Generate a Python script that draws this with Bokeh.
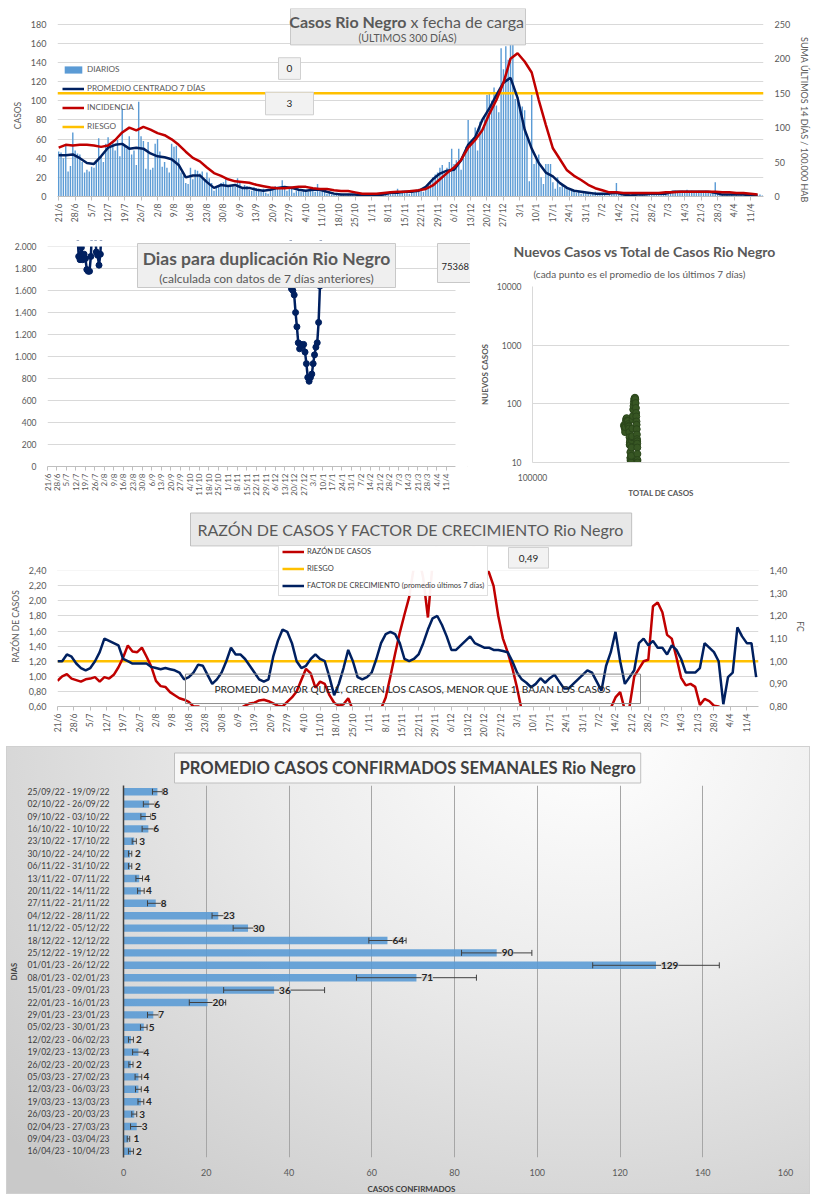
import math
from bokeh.plotting import figure
from bokeh.layouts import column, row
from bokeh.models import (Range1d, LinearAxis, FixedTicker, CustomJSTickFormatter, Label,
                          BoxAnnotation, Legend, LegendItem, ColumnDataSource, LabelSet,
                          FactorRange, NumeralTickFormatter, Title)
from bokeh.core.properties import value
from bokeh.embed import file_html
from bokeh.resources import INLINE

FONT = "Lato"
TXT = "#595959"
DARK = "#262626"
NAVY = "#002060"
RED = "#c00000"
YELLOW = "#ffc000"
BLUE = "#5b9bd5"
GRID = "#d9d9d9"
NB = "\u00a0"

# ---------------------------------------------------------------- data
fecha_labels = ["21/6", "28/6", "5/7", "12/7", "19/7", "26/7", "2/8", "9/8", "16/8", "23/8",
                "30/8", "6/9", "13/9", "20/9", "27/9", "4/10", "11/10", "18/10", "25/10", "1/11",
                "8/11", "15/11", "22/11", "29/11", "6/12", "13/12", "20/12", "27/12", "3/1", "10/1",
                "17/1", "24/1", "31/1", "7/2", "14/2", "21/2", "28/2", "7/3", "14/3", "21/3",
                "28/3", "4/4", "11/4"]
week_ticks = [7 * i for i in range(len(fecha_labels))]

# daily cases, 21/6/2022 .. 16/4/2023
diarios = [
    47, 46, 40, 53, 26, 32, 67,
    48, 45, 44, 36, 25, 28, 26,
    31, 30, 38, 61, 42, 36, 55,
    62, 56, 57, 48, 59, 42, 92,
    52, 50, 63, 44, 48, 33, 99,
    63, 58, 29, 57, 28, 30, 55,
    60, 47, 31, 36, 30, 25, 55,
    52, 53, 40, 25, 22, 14, 13,
    30, 18, 28, 27, 24, 26, 18,
    25, 19, 14, 6, 9, 10, 14,
    15, 20, 10, 12, 11, 10, 19,
    14, 10, 12, 11, 7, 6, 10,
    9, 8, 5, 8, 4, 3, 6,
    8, 11, 10, 9, 17, 10, 6,
    9, 8, 4, 6, 7, 5, 6,
    7, 5, 8, 6, 5, 13, 6,
    8, 7, 3, 4, 2, 2, 3,
    2, 3, 2, 1, 3, 2, 2,
    3, 2, 1, 1, 1, 2, 1,
    1, 2, 1, 2, 1, 1, 3,
    4, 3, 5, 4, 8, 3, 6,
    5, 4, 3, 6, 4, 5, 8,
    6, 5, 9, 12, 14, 20, 23,
    25, 30, 33, 24, 30, 36, 50,
    34, 38, 50, 28, 40, 52, 80,
    55, 60, 72, 48, 78, 70, 85,
    106, 107, 100, 114, 95, 88, 155,
    133, 157, 143, 160, 160, 102, 104,
    92, 94, 90, 61, 16, 106, 34,
    40, 44, 20, 13, 34, 34, 34,
    15, 8, 20, 10, 12, 9, 8,
    8, 6, 5, 4, 6, 3, 5,
    4, 3, 2, 3, 5, 2, 3,
    2, 3, 1, 4, 2, 3, 14,
    5, 2, 1, 2, 3, 1, 2,
    2, 1, 2, 3, 1, 2, 2,
    3, 2, 4, 3, 2, 3, 4,
    3, 4, 5, 6, 5, 4, 6,
    5, 7, 4, 6, 5, 4, 6,
    5, 4, 6, 5, 3, 4, 15,
    4, 3, 2, 1, 2, 1, 2,
    1, 2, 1, 2, 1, 2, 1,
    2, 3, 2, 1, 2, 1,
]
dias = list(range(len(diarios)))

# lines read every 3 days
dias_3 = list(range(0, 300, 3))
promedio_7d = [
    43, 43, 44, 40, 35, 34, 42, 51, 54, 55,
    50, 51, 50, 45, 42, 41, 39, 33, 20, 22,
    22, 15, 9, 12, 11, 12, 9, 9, 7, 6,
    7, 9, 10, 9, 7, 6, 7, 7, 5, 3,
    2, 2, 2, 1, 1, 1, 2, 4, 4, 5,
    5, 6, 10, 18, 24, 27, 28, 38, 54, 62,
    80, 92, 106, 119, 124, 103, 70, 50, 35, 25,
    21, 14, 9, 6, 5, 4, 3, 3, 3, 4,
    2, 1, 2, 2, 3, 3, 3, 5, 5, 5,
    5, 5, 5, 4, 2, 2, 2, 2, 1, 1,
]
incidencia = [
    71, 75, 74, 75, 75, 74, 72, 74, 82, 93,
    100, 96, 101, 97, 92, 89, 83, 75, 65, 56,
    51, 42, 34, 30, 25, 22, 21, 20, 17, 15,
    13, 12, 12, 13, 14, 14, 12, 11, 11, 9,
    8, 8, 6, 4, 4, 4, 5, 6, 7, 7,
    8, 9, 11, 16, 25, 34, 42, 53, 71, 82,
    96, 120, 140, 165, 200, 208, 196, 180, 140, 104,
    70, 54, 38, 30, 24, 17, 12, 9, 6, 6,
    5, 5, 5, 5, 5, 5, 6, 6, 7, 7,
    7, 7, 7, 7, 6, 6, 5, 5, 4, 3,
]
riesgo_incidencia = 150

# doubling days (stretches near the 0-2000 window, nan = gap)
NAN = float("nan")
dup_dias = [22, 23, 24, 25, 26, 27, 28, 29, 30, 31, 32, 33, 34, 35, 36, 37, 38, 39, 40, 41,
            179, 180, 181, 182, 183, 184, 185, 186, 187, 188, 189, 190, 191, 192, 193, 194,
            195, 196, 197, 198, 199, 200, 201, 202]
dup_valores = [2150, 1910, 1880, 1990, 1880, 1930, 1890, 1790, 1775, 1775, 1910, 2200, 2300,
               2150, 1950, 1920, 1830, 1930, 2200, NAN,
               2400, 1615, 1600, 1560, 1400, 1270, 1125, 1070, 1110, 1100, 1110, 1040, 935,
               810, 775, 810, 840, 935, 1015, 1085, 1125, 1310, 1640, 2300]
total_casos_box = "75368"

# new vs total
total_casos = [227000, 227800, 228600, 229300, 230000, 230800, 231600, 232400, 233200, 234000,
               234800, 235500, 236200, 236900, 237500, 238100, 238500, 238900, 239300, 239700,
               240000, 240300, 240500, 240700, 240900, 241100, 241300, 242000, 242300, 242700,
               243200, 243700, 244200, 244700, 245300, 245900, 246600, 247300, 248000, 248800,
               249600, 250400, 251200, 251900, 252500, 253000, 253400, 253800, 254100, 254400,
               254700, 255000, 255300, 255500, 255700, 255900, 256100, 256200]
nuevos_casos = [43, 41, 38, 33, 40, 50, 55, 57, 52, 50,
                51, 45, 42, 41, 38, 33, 27, 20, 22, 23,
                20, 15, 12, 11, 12, 10, 10.5, 10, 13, 18,
                24, 27, 28, 38, 54, 62, 80, 92, 106, 119,
                124, 127, 120, 103, 85, 70, 61, 50, 44, 37,
                30, 25, 23, 21, 18, 14, 11, 10]

# ratio and growth factor, read every 2 days
dias_2 = list(range(0, 300, 2))
razon_casos = [
    0.94, 1.00, 1.03, 0.97, 0.95, 0.93, 0.96, 0.97, 0.99, 0.93,
    0.99, 0.97, 1.02, 1.12, 1.25, 1.41, 1.33, 1.32, 1.38, 1.26,
    1.13, 0.94, 0.87, 0.86, 0.79, 0.75, 0.71, 0.69, 0.66, 0.60,
    0.60, 0.57, 0.54, 0.50, 0.48, 0.47, 0.50, 0.52, 0.55, 0.58,
    0.61, 0.64, 0.65, 0.68, 0.69, 0.67, 0.64, 0.61, 0.60, 0.66,
    0.72, 0.80, 0.95, 1.10, 1.04, 0.85, 0.93, 0.90, 0.75, 0.65,
    0.61, 0.63, 0.71, 0.55, 0.45, 0.40, 0.38, 0.42, 0.48, 0.57,
    0.72, 1.00, 1.30, 1.58, 1.82, 2.05, 2.45, 2.60, 2.30, 1.78,
    2.50, 2.80, 3.00, 3.10, 3.20, 3.10, 3.00, 2.90, 2.80, 2.70,
    2.60, 2.50, 2.38, 2.20, 1.80, 1.50, 1.32, 1.11, 0.85, 0.55,
    0.45, 0.40, 0.36, 0.33, 0.30, 0.28, 0.27, 0.26, 0.26, 0.27,
    0.28, 0.30, 0.33, 0.36, 0.40, 0.44, 0.48, 0.52, 0.58, 0.72,
    0.79, 0.55, 0.60, 1.00, 1.10, 1.20, 1.22, 1.93, 1.98, 1.85,
    1.55, 1.50, 1.25, 0.98, 0.88, 0.90, 0.86, 0.62, 0.70, 0.67,
    0.61, 0.60, 0.55, 0.52, 0.50, 0.50, 0.49, 0.49, 0.49, 0.49,
]
factor_crecimiento = [
    1.00, 1.00, 1.03, 1.02, 0.99, 0.97, 0.96, 0.97, 1.00, 1.04,
    1.10, 1.09, 1.08, 1.07, 1.01, 1.00, 0.99, 0.99, 0.99, 0.99,
    0.975, 0.97, 0.965, 0.97, 0.965, 0.96, 0.95, 0.92, 0.93, 0.95,
    0.985, 0.98, 0.94, 0.90, 0.92, 0.95, 1.00, 1.06, 1.03, 1.03,
    1.01, 0.98, 0.95, 0.92, 0.91, 0.92, 1.02, 1.09, 1.14, 1.13,
    1.08, 1.00, 0.97, 0.98, 1.01, 1.03, 1.01, 1.00, 0.93, 0.85,
    0.90, 0.97, 1.05, 1.00, 0.93, 0.92, 0.93, 0.95, 1.01, 1.08,
    1.12, 1.13, 1.12, 1.08, 1.01, 1.00, 1.01, 1.03, 1.08, 1.14,
    1.19, 1.20, 1.16, 1.11, 1.05, 1.05, 1.07, 1.09, 1.11, 1.08,
    1.07, 1.06, 1.06, 1.05, 1.05, 1.045, 1.04, 1.00, 0.95, 0.92,
    0.905, 0.885, 0.90, 0.925, 0.905, 0.925, 0.94, 0.91, 0.88, 0.88,
    0.90, 0.92, 0.94, 0.96, 0.95, 0.91, 0.87, 0.98, 1.04, 1.13,
    1.00, 0.90, 0.93, 0.96, 1.08, 1.10, 1.07, 1.09, 1.06, 1.06,
    1.03, 1.07, 1.05, 1.01, 0.95, 0.95, 0.95, 0.97, 1.08, 1.06,
    1.04, 1.00, 0.81, 0.93, 0.95, 1.15, 1.11, 1.08, 1.08, 0.93,
]
riesgo_fc = 1.0
razon_actual = "0,49"

# weekly averages
semanas = ["25/09/22 - 19/09/22", "02/10/22 - 26/09/22", "09/10/22 - 03/10/22",
           "16/10/22 - 10/10/22", "23/10/22 - 17/10/22", "30/10/22 - 24/10/22",
           "06/11/22 - 31/10/22", "13/11/22 - 07/11/22", "20/11/22 - 14/11/22",
           "27/11/22 - 21/11/22", "04/12/22 - 28/11/22", "11/12/22 - 05/12/22",
           "18/12/22 - 12/12/22", "25/12/22 - 19/12/22", "01/01/23 - 26/12/22",
           "08/01/23 - 02/01/23", "15/01/23 - 09/01/23", "22/01/23 - 16/01/23",
           "29/01/23 - 23/01/23", "05/02/23 - 30/01/23", "12/02/23 - 06/02/23",
           "19/02/23 - 13/02/23", "26/02/23 - 20/02/23", "05/03/23 - 27/02/23",
           "12/03/23 - 06/03/23", "19/03/23 - 13/03/23", "26/03/23 - 20/03/23",
           "02/04/23 - 27/03/23", "09/04/23 - 03/04/23", "16/04/23 - 10/04/23"]
promedio_sem = [8.2, 6.2, 5.4, 6.0, 2.6, 1.6, 1.6, 3.8, 4.2, 7.8, 22.9, 30.1, 63.8, 90.2,
                128.7, 70.8, 36.4, 20.3, 7.2, 4.9, 1.8, 3.6, 1.8, 3.6, 3.6, 4.2, 2.6, 3.2,
                1.2, 1.8]
error_sem = [1.2, 1.4, 1.2, 1.5, 0.5, 0.4, 0.4, 0.8, 0.8, 2.0, 1.5, 3.6, 4.5, 8.5, 15.3,
             14.5, 12.2, 4.4, 1.4, 0.8, 0.6, 1.4, 0.5, 0.8, 0.7, 0.7, 0.6, 1.5, 0.3, 0.6]


# ---------------------------------------------------------------- helpers
def mapper(L, T, R, B, xr, yr):
    def m(px, py):
        return (xr[0] + (px - L) / (R - L) * (xr[1] - xr[0]),
                yr[0] + (B - py) / (B - T) * (yr[1] - yr[0]))
    return m


def box(p, m, x0, y0, x1, y1, fill="#e8e8e8", line="#bfbfbf", fill_alpha=1.0):
    l, t = m(x0, y0)
    r, b = m(x1, y1)
    p.add_layout(BoxAnnotation(left=l, right=r, top=t, bottom=b, fill_color=fill,
                               fill_alpha=fill_alpha, line_color=line, line_alpha=1.0,
                               line_width=1, level="overlay"))


def mask(p, **kw):
    p.add_layout(BoxAnnotation(fill_color="white", fill_alpha=1.0, line_color=None,
                               level="annotation", **kw))


def text(p, m, px, py, s, size, color=TXT, bold=False, align="center"):
    x, y = m(px, py)
    p.add_layout(Label(x=x, y=y, text=s, text_font=FONT, text_font_size=f"{size}px",
                       text_font_style="bold" if bold else "normal", text_color=color,
                       text_align=align, text_baseline="middle", level="overlay"))


def style_axis(ax, size=9, color=TXT, line=None, ticks=False):
    ax.major_label_text_font = FONT
    ax.major_label_text_font_size = f"{size}px"
    ax.major_label_text_color = color
    ax.axis_label_text_font = FONT
    ax.axis_label_text_font_style = "normal"
    ax.axis_label_text_color = TXT
    ax.minor_tick_line_color = None
    ax.axis_line_color = line
    if ticks:
        ax.major_tick_line_color = line
        ax.major_tick_out = 4
        ax.major_tick_in = 0
    else:
        ax.major_tick_line_color = None


def date_axis(ax, size=8.5):
    ax.ticker = FixedTicker(ticks=week_ticks)
    ax.major_label_overrides = dict(zip(week_ticks, fecha_labels))
    ax.major_label_orientation = math.pi / 2
    ax.major_label_standoff = 3
    style_axis(ax, size=size, line="#bfbfbf", ticks=True)


def outline(offset):
    return {"outline": "1px solid #d9d9d9", "outline-offset": f"-{offset}px"}


COMMON = dict(output_backend="svg", toolbar_location=None, title=None)
COMMA = "return tick.toFixed(2).replace('.', ',');"

# ---------------------------------------------------------------- panel 1  (page 0..230)
L1, T1, R1, B1 = 57, 8, 763, 199          # frame
s1 = (B1 - 24) / 180.0                    # px per case (180 sits at y=24)
y1_top = 180 + (24 - T1) / s1
s1r = (B1 - 24) / 250.0
y1r_top = 250 + (24 - T1) / s1r
p1 = figure(width=816, height=230, x_range=Range1d(-0.5, 299.5), y_range=Range1d(0, y1_top),
            min_border_left=L1, min_border_right=816 - R1, min_border_top=T1,
            min_border_bottom=230 - B1, **COMMON)
p1.styles = outline(2)
p1.outline_line_color = None
p1.extra_y_ranges = {"inc": Range1d(0, y1r_top)}
p1.xgrid.grid_line_color = None
p1.ygrid.grid_line_color = GRID
p1.yaxis.ticker = FixedTicker(ticks=list(range(0, 181, 20)))
p1.yaxis.axis_label = "CASOS" + NB * 12
style_axis(p1.yaxis[0])
p1.yaxis.axis_label_text_font_size = "8.5px"
date_axis(p1.xaxis[0])
ax_r = LinearAxis(y_range_name="inc", ticker=FixedTicker(ticks=[0, 50, 100, 150, 200, 250]),
                  axis_label=NB * 16 + "SUMA  ÚLTIMOS 14 DÍAS / 100.000 HAB")
style_axis(ax_r)
ax_r.axis_label_text_font_size = "9px"
ax_r.axis_label_standoff = 6
p1.add_layout(ax_r, "right")

r_bar = p1.vbar(x=dias, top=diarios, width=0.6, fill_color=BLUE, line_color=None)
r_risk = p1.line(x=[-0.5, 299.5], y=[riesgo_incidencia] * 2, y_range_name="inc",
                 line_color=YELLOW, line_width=2.5)
r_avg = p1.line(x=dias_3, y=promedio_7d, line_color=NAVY, line_width=2.5)
r_inc = p1.line(x=dias_3, y=incidencia, y_range_name="inc", line_color=RED, line_width=2.5)

leg1 = Legend(items=[LegendItem(label="DIARIOS", renderers=[r_bar]),
                     LegendItem(label="PROMEDIO CENTRADO 7 DÍAS", renderers=[r_avg]),
                     LegendItem(label="INCIDENCIA", renderers=[r_inc]),
                     LegendItem(label="RIESGO", renderers=[r_risk])],
              location=(5, 65), orientation="vertical", label_text_font=FONT,
              label_text_font_size="8.2px", label_text_color=TXT, glyph_height=9,
              glyph_width=22, label_height=9, spacing=9, padding=0, margin=0,
              border_line_alpha=0, background_fill_alpha=0, label_standoff=3)
p1.add_layout(leg1)

m1 = mapper(L1, T1, R1, B1, (-0.5, 299.5), (0, y1_top))
box(p1, m1, 290, 8, 525, 45, fill="#e8e8e8", line="#c8c8c8")
text(p1, m1, 406, 21, "Casos Rio Negro", 16, bold=True, align="right")
text(p1, m1, 410, 21, "x fecha de carga", 16, align="left")
text(p1, m1, 407, 37.5, "(ÚLTIMOS 300 DÍAS)", 10.5)
box(p1, m1, 278, 58, 300, 80, fill="#f2f2f2", line="#d0d0d0")
text(p1, m1, 289, 69, "0", 10, color=DARK)
box(p1, m1, 265, 93, 313, 116, fill="#f2f2f2", line="#d0d0d0")
text(p1, m1, 289, 104.5, "3", 10, color=DARK)

# ---------------------------------------------------------------- panel 2 left (page 230..508)
L2, T2, R2, B2 = 47, 240, 470, 466
s2x = (455 - 47) / 301.0
x2_end = (R2 - L2) / s2x
s2y = (B2 - 246) / 2000.0
y2_top = 2000 + (246 - T2) / s2y
p2a = figure(width=470, height=278, x_range=Range1d(0, x2_end), y_range=Range1d(0, y2_top),
             min_border_left=L2, min_border_right=0, min_border_top=T2 - 230,
             min_border_bottom=508 - B2, **COMMON)
p2a.styles = outline(3)
p2a.outline_line_color = None
p2a.xgrid.grid_line_color = None
p2a.ygrid.grid_line_color = GRID
p2a.yaxis.ticker = FixedTicker(ticks=list(range(0, 2001, 200)))
p2a.yaxis.formatter = CustomJSTickFormatter(code="""
    if (tick >= 1000) { const r = tick % 1000; return Math.floor(tick/1000) + '.' + String(r).padStart(3, '0'); }
    return String(tick);""")
style_axis(p2a.yaxis[0], size=8.5)
date_axis(p2a.xaxis[0], size=8)
p2a.xaxis.bounds = (0, 301)
p2a.line(x=dup_dias, y=dup_valores, line_color=NAVY, line_width=2.5)
p2a.scatter(x=dup_dias, y=dup_valores, size=6, fill_color=NAVY, line_color=NAVY)
# the chart window stops at 2000 and at its right edge: blank out the extra frame room
mask(p2a, bottom=2000)
mask(p2a, left=301)

m2a = mapper(L2, T2, R2, B2, (0, x2_end), (0, y2_top))
box(p2a, m2a, 137, 243, 395, 287, fill="#efefef", line="#c8c8c8")
text(p2a, m2a, 266, 258, "Dias para duplicación Rio Negro", 17.5, bold=True)
text(p2a, m2a, 266, 278, "(calculada con datos de 7 días anteriores)", 12)
box(p2a, m2a, 437, 243, 485, 282, fill="#f2f2f2", line="#c8c8c8")
text(p2a, m2a, 441, 266, total_casos_box, 9.5, color=DARK, align="left")

# ---------------------------------------------------------------- panel 2 right (page 470..816)
p2b = figure(width=346, height=278, x_axis_type="log", y_axis_type="log",
             x_range=Range1d(1e5, 1e6), y_range=Range1d(10, 10000),
             min_border_left=62, min_border_right=27, min_border_top=56, min_border_bottom=46,
             **COMMON)
p2b.styles = outline(3)
p2b.outline_line_color = None
p2b.xgrid.grid_line_color = None
p2b.ygrid.grid_line_color = GRID
p2b.yaxis.ticker = FixedTicker(ticks=[10, 100, 1000, 10000])
p2b.yaxis.formatter = NumeralTickFormatter(format="0")
p2b.xaxis.ticker = FixedTicker(ticks=[100000])
p2b.xaxis.formatter = NumeralTickFormatter(format="0")
style_axis(p2b.yaxis[0], size=8.5, line=GRID)
style_axis(p2b.xaxis[0], size=8.5, line=GRID)
p2b.yaxis.axis_label = "NUEVOS CASOS"
p2b.xaxis.axis_label = "TOTAL DE CASOS"
for ax in (p2b.yaxis[0], p2b.xaxis[0]):
    ax.axis_label_text_font_style = "bold"
    ax.axis_label_text_font_size = "8px"
    ax.axis_label_standoff = 4
p2b.scatter(x=total_casos, y=nuevos_casos, size=7, fill_color="#375623", line_color="#2b461b")
p2b.add_layout(Title(text="(cada punto es el promedio de los últimos 7 días)", align="left",
                     offset=1, standoff=13, text_font=FONT, text_font_size="10px",
                     text_font_style="normal", text_color=TXT), "above")
p2b.add_layout(Title(text="Nuevos Casos vs Total de Casos Rio Negro", align="left",
                     offset=-19, standoff=0, text_font=FONT, text_font_size="14px",
                     text_font_style="bold", text_color=TXT), "above")

# ---------------------------------------------------------------- panel 3  (page 508..740)
L3, T3, R3, B3 = 57, 546, 758, 709
s3 = (B3 - 570.7) / 1.8
y3_top = 2.4 + (570.7 - T3) / s3
s3r = (B3 - 570.7) / 0.6
y3r_top = 1.4 + (570.7 - T3) / s3r
p3 = figure(width=816, height=232, x_range=Range1d(0, 299), y_range=Range1d(0.6, y3_top),
            min_border_left=L3, min_border_right=816 - R3, min_border_top=T3 - 508,
            min_border_bottom=740 - B3, **COMMON)
p3.styles = outline(2)
p3.outline_line_color = None
p3.extra_y_ranges = {"fc": Range1d(0.8, y3r_top)}
p3.xgrid.grid_line_color = None
p3.ygrid.grid_line_color = GRID
p3.yaxis.ticker = FixedTicker(ticks=[0.6, 0.8, 1.0, 1.2, 1.4, 1.6, 1.8, 2.0, 2.2, 2.4])
p3.yaxis.formatter = CustomJSTickFormatter(code=COMMA)
p3.yaxis.axis_label = "RAZÓN DE CASOS"
style_axis(p3.yaxis[0])
p3.yaxis.axis_label_text_font_size = "8.5px"
date_axis(p3.xaxis[0])
ax_fc = LinearAxis(y_range_name="fc",
                   ticker=FixedTicker(ticks=[0.8, 0.9, 1.0, 1.1, 1.2, 1.3, 1.4]),
                   formatter=CustomJSTickFormatter(code=COMMA), axis_label="FC")
style_axis(ax_fc)
ax_fc.axis_label_text_font_size = "8.5px"
p3.add_layout(ax_fc, "right")

r3_risk = p3.line(x=[0, 299], y=[riesgo_fc] * 2, y_range_name="fc", line_color=YELLOW,
                  line_width=2.5)
r3_raz = p3.line(x=dias_2, y=razon_casos, line_color=RED, line_width=2.5)
r3_fc = p3.line(x=dias_2, y=factor_crecimiento, y_range_name="fc", line_color=NAVY,
                line_width=2.5)
# the chart window stops at 2,40
mask(p3, bottom=2.4)

leg3 = Legend(items=[LegendItem(label="RAZÓN DE CASOS", renderers=[r3_raz]),
                     LegendItem(label="RIESGO", renderers=[r3_risk]),
                     LegendItem(label="FACTOR DE CRECIMIENTO (promedio últimos 7 días)",
                                renderers=[r3_fc])],
              location=(221, 110), orientation="vertical", label_text_font=FONT,
              label_text_font_size="7.5px", label_text_color="#404040", glyph_height=13,
              glyph_width=22, label_height=13, spacing=4, padding=3, margin=0,
              border_line_color="#bfbfbf", background_fill_color="white", label_standoff=3)
p3.add_layout(leg3)
p3.add_layout(Title(text="RAZÓN DE CASOS Y FACTOR DE CRECIMIENTO Rio Negro", align="left",
                    offset=133, standoff=1, text_font=FONT, text_font_size="16px",
                    text_font_style="normal", text_color=TXT, background_fill_color="#e8e8e8",
                    border_line_color="#c0c0c0", padding=7), "above")

m3 = mapper(L3, T3, R3, B3, (0, 299), (0.6, y3_top))
box(p3, m3, 508, 547, 548, 568, fill="#f2f2f2", line="#d0d0d0")
text(p3, m3, 528, 558, razon_actual, 10, color=DARK)
box(p3, m3, 185, 676, 640, 706, fill="white", line="#8c8c8c", fill_alpha=0.0)
text(p3, m3, 412, 691, "PROMEDIO MAYOR QUE 1, CRECEN LOS CASOS, MENOR QUE 1, BAJAN LOS CASOS",
     10.2, color=DARK)

# ---------------------------------------------------------------- panel 4  (page 740..1200)
src = ColumnDataSource(dict(
    cat=semanas, val=promedio_sem,
    lo=[v - e for v, e in zip(promedio_sem, error_sem)],
    hi=[v + e for v, e in zip(promedio_sem, error_sem)],
    lbl=[f"{v:.0f}" for v in promedio_sem]))

p4 = figure(width=816, height=460, x_range=Range1d(0, 160),
            y_range=FactorRange(factors=semanas[::-1]),
            min_border_left=123, min_border_right=31, min_border_top=45, min_border_bottom=43,
            **COMMON)
p4.styles = {"background": "radial-gradient(ellipse 95% 130% at 72% 0%, #ffffff 0%, "
                           "#ececec 40%, #c9c9c9 100%)",
             "box-shadow": "inset 0 0 0 7px #ffffff",
             "outline": "1px solid #d0d0d0", "outline-offset": "-7px"}
p4.background_fill_color = None
p4.border_fill_color = None
p4.outline_line_color = None
p4.xgrid.grid_line_color = "#a6a6a6"
p4.ygrid.grid_line_color = None
p4.xaxis.ticker = FixedTicker(ticks=list(range(0, 161, 20)))
style_axis(p4.xaxis[0], size=9)
style_axis(p4.yaxis[0], size=8.5, color="#404040", line="#404040")
p4.yaxis.axis_line_width = 1.5
p4.yaxis.major_label_standoff = 8
p4.yaxis.axis_label = "DIAS"
p4.yaxis.axis_label_text_font_style = "bold"
p4.yaxis.axis_label_text_font_size = "7.5px"
p4.yaxis.axis_label_text_color = "#404040"

p4.hbar(y="cat", left=0, right="val", height=0.6, source=src, fill_color=BLUE,
        fill_alpha=0.9, line_color=None)
p4.segment(x0="lo", x1="hi", y0="cat", y1="cat", source=src, line_color="#404040",
           line_width=1)
for key in ("lo", "hi"):
    p4.scatter(x=key, y="cat", source=src, marker="dash", angle=math.pi / 2, size=6,
               line_color="#404040", line_width=1)
p4.add_layout(LabelSet(x="val", y="cat", text="lbl", source=src, x_offset=5,
                       text_font=value(FONT), text_font_size="10px", text_font_style="bold",
                       text_color=DARK, text_baseline="middle",
                       background_fill_color="#d9d9d9", background_fill_alpha=0.85,
                       level="overlay"))
p4.add_layout(Title(text="PROMEDIO CASOS CONFIRMADOS SEMANALES Rio Negro", align="left",
                    offset=51, standoff=5, text_font=FONT, text_font_size="16.6px",
                    text_font_style="bold", text_color="#404040",
                    background_fill_color="#f7f7f7", border_line_color="#bfbfbf", padding=5),
              "above")
p4.add_layout(Title(text="CASOS CONFIRMADOS", align="left", offset=244, standoff=6,
                    text_font=FONT, text_font_size="8px", text_font_style="bold",
                    text_color="#404040"), "below")

layout = column(row(p1), row(column(p2a), column(p2b)), row(p3), row(p4))
open("out.html", "w").write(file_html(layout, INLINE, "Casos Rio Negro"))
